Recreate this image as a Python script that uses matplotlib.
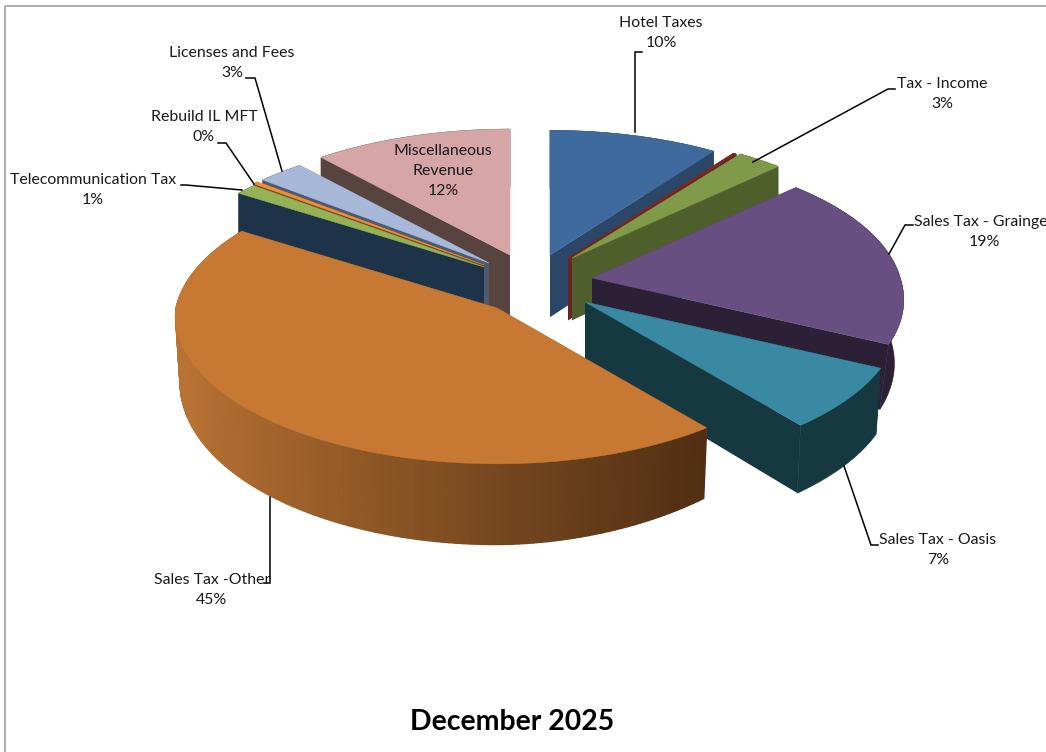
import numpy as np
import matplotlib
matplotlib.use("Agg")
import matplotlib.pyplot as plt
from matplotlib.patches import Polygon, Rectangle
from matplotlib.colors import to_rgb

# ---- data ----
names = ["Hotel Taxes", "", "Tax - Income", "Sales Tax - Grainger", "Sales Tax - Oasis",
         "Sales Tax -Other", "Telecommunication Tax", "Rebuild IL MFT", "Licenses and Fees",
         "Miscellaneous\nRevenue"]
values = [10.0, 0.2, 2.6, 19.4, 7.0, 45.0, 1.2, 0.3, 2.7, 11.6]
title = "December 2025"

# ---- style / layout (pixel space) ----
top_cols = ["#3E6A9E", "#7A2A28", "#7F9A48", "#674F82", "#3A89A3", "#C77933", "#95B254", "#F39036", "#A7B8D8", "#D5A6A5"]
wall_cols = ["#2A4768", "#6A2422", "#4E5F2B", "#2B2035", "#163840", "#C07530", "#1D3349", "#7A4A20", "#4D5A70", "#58443F"]
apex = [(550, 255), (568, 258), (572, 258), (592, 278), (585, 302), (497, 308), (484, 267), (484, 265), (489, 263), (510, 255)]
scale = [0.99, 1.0, 1.0, 0.96, 0.97, 1.0, 1.0, 1.0, 1.0, 1.0]
k_far = [0.176, 0.176, 0.176, 0.13, 0.176, 0.10, 0.176, 0.176, 0.176, 0.176]
k_near = [0.05, 0.05, 0.05, 0.15, 0.12, 0.05, 0.05, 0.05, 0.05, 0.05]
lean = [0, 0, 0, 0.03, 0.015, 0.014, 0, 0, 0, 0]
draw_order = [9, 0, 1, 2, 8, 7, 6, 3, 4, 5]
RX, RY = 321, 148
label_pos = [(661, 33), None, (942, 94), (984, 232), (938, 550), (212, 590), (93, 190), (204, 127), (232, 63), (443, 171)]
leaders = [[(635, 132), (635, 52), (642, 52)], None,
           [(753, 162), (888, 89), (895, 89)],
           [(889, 254), (905, 225), (913, 225)],
           [(844, 466), (871, 545), (878, 545)],
           [(270, 497), (270, 583), (264, 583)],
           [(242, 190), (186, 185), (181, 185)],
           [(254, 184), (226, 143), (218, 143)],
           [(282, 171), (255, 78), (246, 78)], None]
FONT = "Lato"
ORANGE = 5

fig = plt.figure(figsize=(10.46, 7.52), dpi=100)
ax = fig.add_axes([0, 0, 1, 1])
ax.set_xlim(0, 1046)
ax.set_ylim(752, 0)
ax.axis("off")
ax.add_patch(Rectangle((4.5, 5.5), 1100, 800, fill=False, ec="#A6A6A6", lw=1.3))


def project(i, theta):
    X, Y = np.sin(theta), np.cos(theta)
    k = np.where(Y > 0, k_far[i], k_near[i])
    s = scale[i] / (1 + k * Y)
    return apex[i][0] + RX * X * s, apex[i][1] - RY * Y * s


def depth(i, y, theta):
    if i == ORANGE:
        right = np.clip(np.sin(theta), 0, None) / 0.63
        return 66 + 0.09 * (y - 300) - 7 * right ** 1.5
    return 62 + 0.033 * (y - 250)


def shade(theta):
    # cylinder wall of the largest slice darkens to the right
    t = np.clip((np.sin(theta) + 0.95) / 1.6, 0, 1)
    a = np.array(to_rgb("#B87233"))
    b = np.array(to_rgb("#4F2E13"))
    return a + (b - a) * t ** 0.9


edges = np.cumsum([0] + values) / sum(values) * 2 * np.pi

for i in draw_order:
    z = 1 + draw_order.index(i)
    th = np.linspace(edges[i], edges[i + 1], max(6, int(values[i] * 3)))
    x, y = project(i, th)
    d = depth(i, y, th)
    ax0, ay0 = apex[i]
    bx = x - lean[i] * (x - ax0)
    by = y + d
    apex_d = depth(i, ay0, 0.0)
    # radial walls
    for j in (0, -1):
        pts = [(ax0, ay0), (x[j], y[j]), (bx[j], by[j]), (ax0, ay0 + apex_d)]
        ax.add_patch(Polygon(pts, closed=True, fc=wall_cols[i] if i != ORANGE else "#4F2E13", ec="none", zorder=z))
    # rim
    if i == ORANGE:
        for j in range(len(th) - 1):
            pts = [(x[j], y[j]), (x[j + 1], y[j + 1]), (bx[j + 1], by[j + 1]), (bx[j], by[j])]
            col = shade((th[j] + th[j + 1]) / 2)
            ax.add_patch(Polygon(pts, closed=True, fc=col, ec=col, lw=1.0, zorder=z))
    else:
        pts = np.column_stack([np.r_[x, bx[::-1]], np.r_[y, by[::-1]]])
        ax.add_patch(Polygon(pts, closed=True, fc=wall_cols[i], ec=wall_cols[i], lw=0.5, zorder=z))
    top = np.column_stack([np.r_[ax0, x], np.r_[ay0, y]])
    ax.add_patch(Polygon(top, closed=True, fc=top_cols[i], ec=top_cols[i], lw=0.4, zorder=z))

for i, name in enumerate(names):
    if label_pos[i] is None:
        continue
    ax.text(label_pos[i][0], label_pos[i][1], f"{name}\n{round(values[i])}%", ha="center", va="center",
            family=FONT, fontsize=11.4, color="#1A1A1A", linespacing=1.58, zorder=30)
    if leaders[i]:
        xs, ys = zip(*leaders[i])
        ax.plot(xs, ys, color="black", lw=1.1, zorder=25, solid_joinstyle="miter")

ax.text(512, 722, title, ha="center", va="center", family=FONT, fontsize=20.4, fontweight="bold", color="black", zorder=30)
fig.savefig("out.png", dpi=100)
